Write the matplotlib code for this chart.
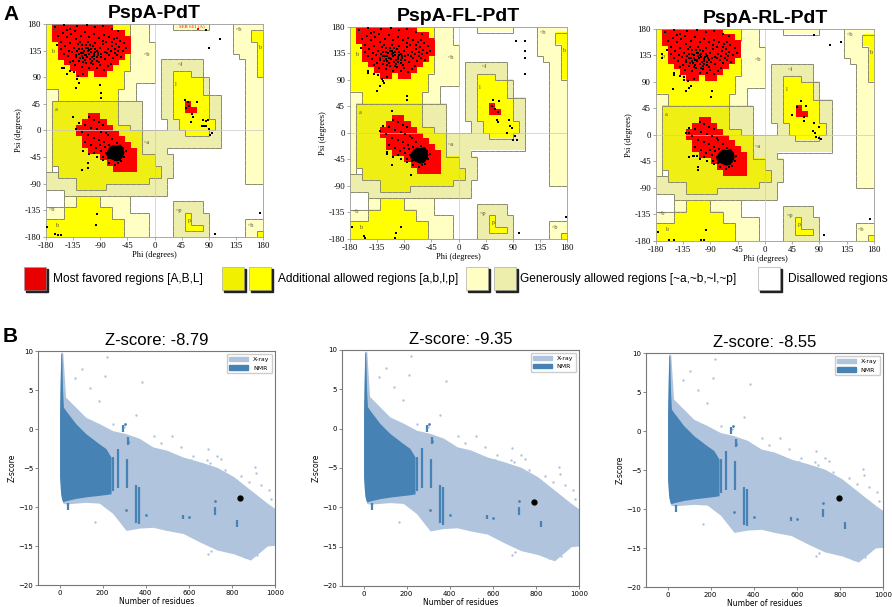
import numpy as np
import matplotlib
matplotlib.use('Agg')
import matplotlib.pyplot as plt
from matplotlib.patches import Rectangle, Patch, Polygon
from matplotlib.collections import LineCollection
from matplotlib.colors import ListedColormap

# ================= Ramachandran data =================
# region codes: 0 disallowed, 1 generous ~b, 2 generous ~a/~l/~p, 3 allowed a, 4 allowed b/l/p, 5 core
region_colors = ['#ffffff', '#ffffc4', '#eeeeac', '#efef14', '#ffff00', '#ff0000']
# (code, phi0, phi1, psi0, psi1), painted in this order
region_rects = [
    (1, -180, -10, 150, 180), (1, -180, 0, 80, 150), (1, -180, -30, 50, 80),
    (1, -180, -40, -180, -100), (1, -40, -10, -180, -140),
    (2, -180, 0, -110, -70), (2, -60, -20, 0, 50), (2, -40, 20, -110, 0), (2, 20, 30, -80, -40),
    (0, -180, -150, -130, -100), (1, -180, -170, -70, 50),
    (1, 130, 180, 130, 180), (1, 140, 180, 120, 130), (1, 150, 180, -90, 120),
    (1, 30, 90, 170, 180), (1, 150, 180, -180, -150),
    (2, 10, 80, 90, 120), (2, 10, 90, 60, 90), (2, 10, 110, 20, 60), (2, 20, 110, -30, 20),
    (2, 30, 80, -180, -120), (2, 80, 90, -180, -140),
    (4, -180, -40, 100, 180), (4, -180, -50, 70, 100), (4, -160, -60, 50, 70),
    (3, -170, -60, 10, 50), (3, -170, -40, 0, 10), (3, -170, -20, -40, 0), (3, -170, 0, -60, -40),
    (3, -160, 10, -80, -60), (3, -130, -80, -100, -80), (3, -80, -10, -90, -80),
    (4, -130, -90, -130, -110), (4, -150, -70, -150, -130), (4, -180, -50, -180, -150),
    (4, 30, 60, 90, 100), (4, 30, 80, 60, 90), (4, 30, 90, 20, 60), (4, 40, 100, 0, 20), (4, 50, 90, -10, 0),
    (4, 50, 60, -170, -140), (4, 50, 80, -170, -160),
    (4, 170, 180, 90, 160), (4, 160, 180, 150, 170), (4, 170, 180, -180, -170),
    (5, -170, -70, 170, 180), (5, -170, -50, 160, 170), (5, -170, -40, 150, 160), (5, -160, -40, 130, 150),
    (5, -160, -50, 120, 130), (5, -150, -60, 110, 120), (5, -140, -70, 100, 110),
    (5, -130, -110, 90, 100), (5, -100, -80, 90, 100),
    (5, -110, -90, 20, 30), (5, -120, -80, 10, 20), (5, -130, -70, 0, 10), (5, -130, -60, -10, 0),
    (5, -120, -50, -20, -10), (5, -120, -40, -30, -20), (5, -110, -30, -40, -30), (5, -90, -30, -50, -40),
    (5, -80, -30, -60, -50), (5, -70, -30, -70, -60),
    (5, 50, 60, 40, 50), (5, 50, 70, 30, 40),
]
region_labels = [('B', -168, 170), ('b', -172, 133), ('A', -112, 8), ('a', -166, 35), ('L', 52, 42),
                 ('l', 34, 78), ('~b', -17, 128), ('~a', -17, -20), ('~l', 38, 112), ('~p', 36, -136),
                 ('p', 55, -152), ('~b', -176, -134), ('b', -165, -160), ('~b', 135, 170),
                 ('b', 172, 140), ('~b', 154, -160)]

# residues shared by all three models (beta and alpha clusters)
beta_core = [(-165, 175), (-150, 178), (-140, 172), (-128, 176), (-112, 178), (-98, 175), (-85, 177),
             (-70, 172), (-60, 168), (-160, 160), (-152, 165), (-145, 158), (-138, 163), (-130, 155),
             (-122, 160), (-115, 166), (-108, 158), (-100, 163), (-92, 157), (-84, 162), (-76, 158),
             (-68, 155), (-58, 152), (-50, 148), (-162, 145), (-155, 150), (-148, 142), (-141, 148),
             (-134, 140), (-127, 146), (-120, 138), (-114, 144), (-108, 136), (-102, 142), (-96, 134),
             (-90, 140), (-83, 133), (-77, 138), (-71, 143), (-65, 137), (-59, 141), (-53, 135),
             (-47, 140), (-150, 130), (-143, 126), (-137, 132), (-131, 124), (-125, 130), (-119, 122),
             (-113, 128), (-107, 120), (-101, 126), (-95, 118), (-89, 124), (-82, 120), (-75, 127),
             (-69, 122), (-62, 128), (-56, 124), (-140, 115), (-132, 110), (-126, 117), (-120, 108),
             (-114, 114), (-108, 106), (-102, 112), (-96, 105), (-90, 110), (-84, 103), (-78, 109),
             (-72, 113), (-125, 138), (-118, 131), (-112, 125), (-106, 133), (-100, 129), (-94, 131),
             (-117, 135), (-110, 140), (-104, 124), (-98, 138), (-121, 126), (-115, 119), (-109, 130),
             (-103, 117), (-123, 150), (-110, 150), (-98, 148), (-86, 146), (-133, 98), (-127, 92),
             (-118, 95), (-140, 100), (-150, 105), (-145, 170), (-132, 168), (-80, 150), (-64, 146),
             (-128, 134), (-122, 131), (-116, 128), (-111, 134), (-105, 137), (-99, 133), (-93, 127),
             (-120, 144), (-113, 139), (-107, 145), (-101, 120), (-96, 124), (-124, 122), (-130, 128),
             (-88, 130), (-79, 131), (-73, 134), (-66, 131), (-61, 134), (-70, 150), (-63, 157),
             (-142, 135), (-136, 118), (-118, 116), (-106, 114), (-92, 116), (-86, 152), (-155, 138)]
alpha_core = [(-108, 22), (-100, 18), (-92, 14), (-85, 10), (-115, 10), (-105, 5), (-96, 2), (-88, -2),
              (-80, -5), (-120, -2), (-110, -8), (-100, -12), (-92, -16), (-84, -20), (-76, -24),
              (-115, -20), (-105, -25), (-97, -30), (-88, -34), (-80, -38), (-72, -46), (-95, -45),
              (-85, -50), (-75, -55), (-65, -58), (-55, -52), (-50, -45), (-48, -35), (-56, -28),
              (-62, -22), (-70, -15), (-78, -8), (-125, 12), (-130, 3), (-68, -30), (-60, -35),
              (-52, -40), (-58, -48), (-66, -50), (-74, -35), (-82, -28), (-90, -25), (-100, -38),
              (-108, -40), (-118, -35), (-110, -55), (-86, -44), (-78, -47), (-60, -55), (-52, -30)]
alpha_blob_phi = [-78, -74, -69, -63, -57, -53, -51, -54, -58, -64, -70, -76, -79]
alpha_blob_psi = [-36, -29, -26, -27, -25, -30, -38, -45, -50, -51, -48, -46, -41]

# model specific residues
pdt_extra = [(-129, 87), (-125, 80), (-131, 71), (-90, 77), (-89, 63), (-89, 55), (-154, 105), (-146, 96),
             (-135, 23), (-121, -66), (-110, -64), (-179, -163), (-165, -175), (-160, -177), (-155, -176),
             (-95, -142), (-97, -160), (85, 170), (108, 155), (90, 140), (175, -140), (100, -175),
             (50, 52), (55, 48), (57, 42), (53, 38), (70, 48), (62, 28), (63, 22), (60, 15), (80, 18),
             (85, 16), (78, 8), (82, 8), (86, 8), (90, 2), (92, -8), (95, -5), (88, 18)]
fl_extra = [(95, 156), (110, 156), (111, 140), (111, 128), (110, 100), (178, -143), (100, -170),
            (-151, 102), (-135, 72), (-130, 80), (-126, 89), (-123, 84), (-86, 63), (-86, 56),
            (-110, 37), (-79, -71), (-119, -32), (-177, -160), (-157, -175), (-155, -178),
            (-104, -170), (-105, -178), (-95, -159), (58, 56), (67, 55), (55, 45), (60, 40), (65, 36),
            (64, 22), (66, 18), (83, 22), (86, 11), (88, 8), (81, 0), (94, -6), (97, -12), (90, -12)]
rl_extra = [(81, 170), (107, 153), (126, 157), (174, -142), (98, -169), (-170, 138), (-170, 131),
            (-151, 102), (-152, 78), (-134, 94), (-126, 79), (-122, 83), (-131, 74), (-87, 75),
            (-89, 64), (-126, 4), (-126, -37), (-119, -36), (-112, -36), (-111, -60), (-177, -164),
            (-158, -179), (-150, -179), (-105, -179), (-100, -179), (-97, -161), (59, 57), (53, 47),
            (67, 49), (45, 34), (64, 31), (64, 23), (81, 20), (89, 14), (80, 7), (82, 3), (85, -3),
            (89, -5), (92, -6)]
rama_titles = ['PspA-PdT', 'PspA-FL-PdT', 'PspA-RL-PdT']

# ================= ProSA z-score data =================
xray_x = [0, 5, 8, 15, 28, 75, 122, 184, 246, 309, 371, 434, 496, 574, 652, 730, 808, 886, 964, 1000]
xray_top = [2.5, 9.5, 9.9, 9.8, 4.1, 2.8, 1.5, 0.7, -0.2, -0.6, -1.2, -2.3, -2.7, -3.6, -4.2, -4.9,
            -6.1, -7.8, -9.5, -10.2]
xray_bot = [-6.0, -7.5, -8.5, -9.5, -9.6, -9.5, -9.4, -9.5, -10.8, -13.0, -12.7, -12.6, -13.0, -13.4,
            -14.5, -15.5, -16.0, -16.8, -15.0, -14.9]
xray_out_x = [218, 103, 212, 72, 384, 140, 184, 356, 438, 524, 566, 730, 683, 906, 911, 936, 972, 165,
              917, 862, 690, 610, 750, 980, 250, 300, 470, 620, 700, 770, 840, 880, 690, 705, 820]
xray_out_z = [9.2, 7.7, 6.8, 6.6, 6.0, 5.3, 3.6, 1.8, -0.9, -0.9, -2.3, -3.4, -4.0, -4.9, -5.7, -7.2,
              -7.8, -11.9, -16.2, -16.4, -2.5, -4.0, -3.8, -9.0, 0.6, 0.2, -1.8, -3.4, -4.3, -5.2,
              -6.0, -6.8, -16.0, -15.7, -15.3]
nmr_x = [0, 3, 6, 10, 14, 18, 28, 75, 122, 184, 215, 239]
nmr_top = [2.0, 6.0, 9.8, 9.6, 5.0, 2.8, 2.4, 0.7, -0.6, -1.9, -2.5, -3.6]
nmr_bot = [-6.0, -7.5, -8.5, -9.0, -9.3, -9.3, -9.2, -8.9, -8.7, -8.5, -8.4, -8.3]
streak_x = [40, 250, 270, 295, 315, 320, 355, 368, 574, 722, 824]
streak_top = [-9.5, -3.6, -2.5, 0.5, -3.8, -1.0, -7.2, -7.4, -11.0, -10.0, -11.7]
streak_bot = [-10.4, -7.9, -7.5, -0.4, -7.6, -2.0, -12.0, -12.2, -11.5, -11.0, -12.5]
nmr_dot_x = [310, 402, 602, 722, 305, 317]
nmr_dot_z = [-10.4, -11.0, -11.3, -9.2, 0.6, -1.6]
model_residues = [837, 790, 795]
model_z = [-8.79, -9.35, -8.55]

XRAY = '#b0c4de'
NMR = '#4682b4'
SERIF = ['Liberation Serif', 'DejaVu Serif']
SANS = ['Liberation Sans', 'DejaVu Sans']

fig = plt.figure(figsize=(8.92, 6.07), dpi=100)

# ---- region grid ----
grid = np.zeros((36, 36), dtype=int)
for code, p0, p1, s0, s1 in region_rects:
    grid[(s0 + 180) // 10:(s1 + 180) // 10, (p0 + 180) // 10:(p1 + 180) // 10] = code
segs = []
for i in range(36):
    for j in range(35):
        a, b = grid[i, j], grid[i, j + 1]
        if a != b and 5 not in (a, b):
            x = -170 + 10 * j
            segs.append([(x, -180 + 10 * i), (x, -170 + 10 * i)])
for i in range(35):
    for j in range(36):
        a, b = grid[i, j], grid[i + 1, j]
        if a != b and 5 not in (a, b):
            y = -170 + 10 * i
            segs.append([(-180 + 10 * j, y), (-170 + 10 * j, y)])

rama_pos = [[0.0516, 0.6096, 0.2433, 0.3509], [0.3924, 0.6063, 0.2433, 0.3493],
            [0.7354, 0.6030, 0.2444, 0.3493]]
extras = [pdt_extra, fl_extra, rl_extra]
ticks = list(range(-180, 181, 45))
for k in range(3):
    ax = fig.add_axes(rama_pos[k])
    ax.imshow(grid, origin='lower', extent=(-180, 180, -180, 180), cmap=ListedColormap(region_colors),
              vmin=-0.5, vmax=5.5, interpolation='nearest', aspect='auto', zorder=0)
    ax.add_collection(LineCollection(segs, colors='#8a8a70', linewidths=0.7, zorder=1))
    ax.axhline(0, color='#c8c8c8', lw=0.5, zorder=1)
    ax.axvline(0, color='#c8c8c8', lw=0.5, zorder=1)
    for t, px, py in region_labels:
        ax.text(px, py, t, fontsize=4.5, family=SERIF, color='#555533', ha='left', va='center', zorder=2)
    ax.add_patch(Polygon(list(zip(alpha_blob_phi, alpha_blob_psi)), closed=True, color='k', zorder=3))
    pts = beta_core + alpha_core + extras[k]
    ax.plot([p[0] for p in pts], [p[1] for p in pts], 's', color='k', ms=2.0, mew=0, zorder=4)
    if k == 0:
        ax.plot([72], [172], 's', color='red', ms=1.8, mew=0, zorder=4)
        ax.text(40, 176, 'SER 661 (A)', fontsize=3.5, family=SERIF, color='red', va='center', zorder=4)
    ax.set_xlim(-180, 180)
    ax.set_ylim(-180, 180)
    ax.set_xticks(ticks)
    ax.set_yticks(ticks)
    ax.set_xticklabels([str(v) for v in ticks], family=SERIF)
    ax.set_yticklabels([str(v) for v in ticks], family=SERIF)
    ax.tick_params(length=2, width=0.5, color='#888888', labelsize=6.3, pad=1.5)
    for s in ax.spines.values():
        s.set_color('#999999')
        s.set_linewidth(0.6)
    ax.set_xlabel('Phi (degrees)', family=SERIF, fontsize=6, labelpad=1)
    ax.set_ylabel('Psi (degrees)', family=SERIF, fontsize=6, labelpad=1)
    ax.set_title(rama_titles[k], family=SANS, fontsize=14, fontweight='bold', pad=4)

# ---- ProSA panels ----
prosa_pos = [[0.0426, 0.0362, 0.2657, 0.3855], [0.3834, 0.0346, 0.2657, 0.3888],
             [0.7242, 0.0329, 0.2657, 0.3855]]
for k in range(3):
    ax = fig.add_axes(prosa_pos[k])
    ax.fill_between(xray_x, xray_bot, xray_top, color=XRAY, lw=0)
    ax.scatter(xray_out_x, xray_out_z, s=3, color=XRAY, lw=0)
    ax.fill_between(nmr_x, nmr_bot, nmr_top, color=NMR, lw=0)
    ax.vlines(streak_x, streak_bot, streak_top, color=NMR, lw=1.6)
    ax.scatter(nmr_dot_x, nmr_dot_z, s=4, color=NMR, lw=0)
    ax.plot([model_residues[k]], [model_z[k]], 'o', color='k', ms=3.5)
    ax.set_xlim(-100, 1000)
    ax.set_ylim(-20, 10)
    ax.set_xticks(range(0, 1001, 200))
    ax.set_yticks(range(-20, 11, 5))
    ax.tick_params(labelsize=5, length=2, width=0.5, pad=1.5, color='#555555')
    for s in ax.spines.values():
        s.set_color('#777777')
        s.set_linewidth(0.8)
    ax.set_xlabel('Number of residues', fontsize=5.5, labelpad=1)
    ax.set_ylabel('Z-score', fontsize=5.5, labelpad=1)
    ax.set_title('Z-score: %.2f' % model_z[k], family=SANS, fontsize=12, pad=4)
    ax.legend(handles=[Patch(color=XRAY, label='X-ray'), Patch(color=NMR, label='NMR')],
              loc='upper right', fontsize=4.5, handlelength=3, borderpad=0.4, framealpha=1)

# ---- overlay: panel letters and region legend ----
ov = fig.add_axes([0, 0, 1, 1])
ov.set_xlim(0, 892)
ov.set_ylim(607, 0)
ov.axis('off')
ov.text(3, 15, 'A', fontsize=15, fontweight='bold', family=SANS, va='center')
ov.text(3, 336, 'B', fontsize=15, fontweight='bold', family=SANS, va='center')
leg_boxes = [(24, '#e80000'), (222, '#f0f000'), (249, '#ffff00'), (466, '#ffffc4'), (494, '#eeeeac'),
             (758, '#ffffff')]
for x0, c in leg_boxes:
    ov.add_patch(Rectangle((x0 + 2, 269), 22, 23, color='#222222'))
    ov.add_patch(Rectangle((x0, 267), 22, 23, facecolor=c, edgecolor='#999999', lw=0.4))
leg_text = [(53, 'Most favored regions [A,B,L]'), (278, 'Additional allowed regions [a,b,l,p]'),
            (520, 'Generously allowed regions [~a,~b,~l,~p]'), (788, 'Disallowed regions')]
for x0, t in leg_text:
    ov.text(x0, 279, t, fontsize=8.6, family=SANS, va='center')

fig.savefig('out.png', dpi=100)
